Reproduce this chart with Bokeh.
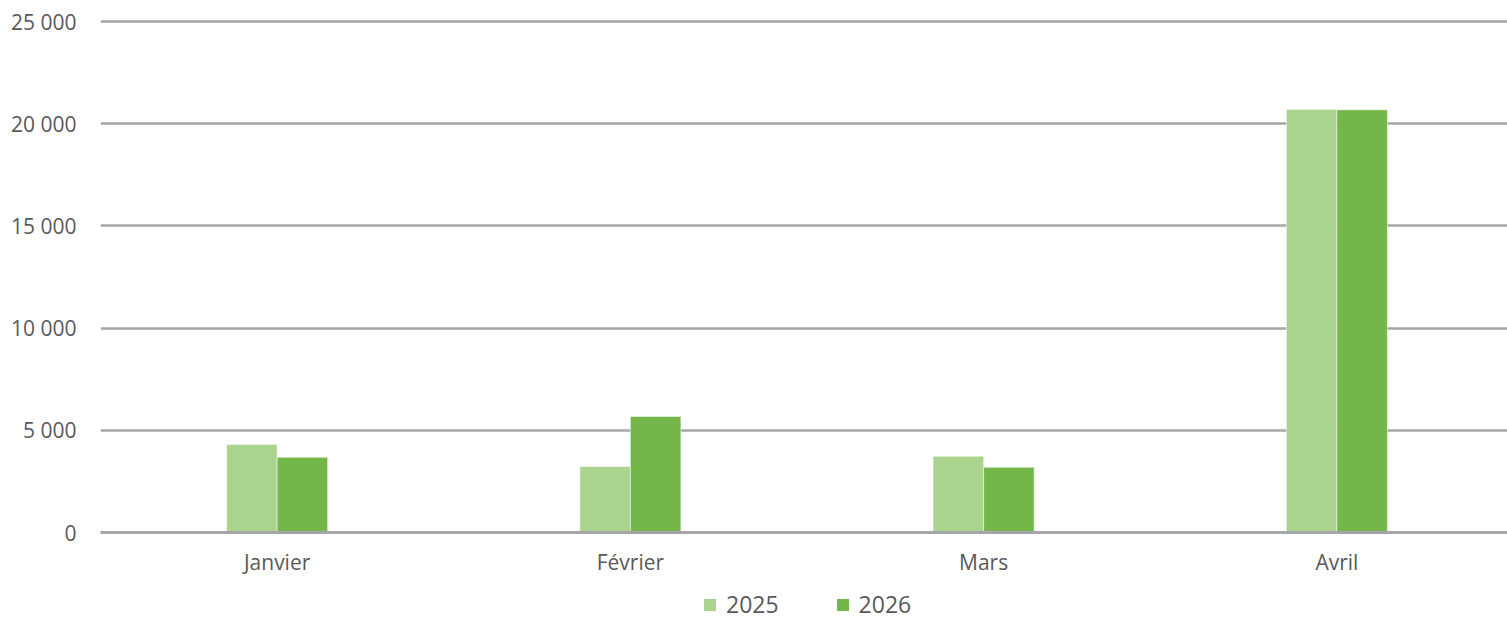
from bokeh.plotting import figure
from bokeh.layouts import column
from bokeh.models import Range1d, FixedTicker, ColumnDataSource, Legend, LegendItem
from bokeh.embed import file_html
from bokeh.resources import INLINE

months = ["Janvier", "Février", "Mars", "Avril"]
series_names = ["2025", "2026"]
values_2025 = [4300, 3230, 3730, 20700]
values_2026 = [3680, 5680, 3190, 20680]
y_ticks = [0, 5000, 10000, 15000, 20000, 25000]

colors = ["#AAD48E", "#74B64A"]
text_color = "#595959"
grid_color = "#A4A6A9"
font = "Open Sans"

centers = [i + 0.5 for i in range(len(months))]
bar_w = 0.143

p = figure(frame_width=1407, frame_height=513, output_backend="svg", toolbar_location=None,
           x_range=Range1d(0, 3.983), y_range=Range1d(0, 25100),
           min_border_left=100, min_border_right=0, min_border_top=19, min_border_bottom=52)
p.outline_line_color = None
p.background_fill_color = "white"
p.border_fill_color = "white"

src25 = ColumnDataSource(dict(x=[c - bar_w / 2 for c in centers], top=values_2025))
src26 = ColumnDataSource(dict(x=[c + bar_w / 2 for c in centers], top=values_2026))
p.vbar(x="x", top="top", width=bar_w, source=src25, fill_color=colors[0],
       line_color="white", line_alpha=0.5, line_width=1)
p.vbar(x="x", top="top", width=bar_w, source=src26, fill_color=colors[1],
       line_color="white", line_alpha=0.5, line_width=1)

# axes
p.xaxis.ticker = FixedTicker(ticks=centers)
p.xaxis.major_label_overrides = {c: m for c, m in zip(centers, months)}
p.xaxis.major_tick_line_color = None
p.xaxis.minor_tick_line_color = None
p.xaxis.axis_line_color = grid_color
p.xaxis.axis_line_width = 3
p.xaxis.major_label_text_font = font
p.xaxis.major_label_text_font_size = "21px"
p.xaxis.major_label_text_color = text_color
p.xaxis.major_label_standoff = 9

p.yaxis.ticker = FixedTicker(ticks=y_ticks)
p.yaxis.major_label_overrides = {t: f"{t:,}".replace(",", " ") for t in y_ticks}
p.yaxis.major_tick_line_color = None
p.yaxis.minor_tick_line_color = None
p.yaxis.axis_line_color = None
p.yaxis.major_label_text_font = font
p.yaxis.major_label_text_font_size = "21px"
p.yaxis.major_label_text_color = text_color
p.yaxis.major_label_standoff = 18

p.xgrid.grid_line_color = None
p.ygrid.grid_line_color = grid_color
p.ygrid.grid_line_width = 2.5

# legend strip below the chart (zero-height proxy bars only feed the legend swatches)
lg = figure(width=1507, height=36, output_backend="svg", toolbar_location=None,
            x_axis_type=None, y_axis_type=None, x_range=Range1d(0, 1), y_range=Range1d(0, 1),
            min_border=0)
lg.outline_line_color = None
lg.grid.visible = False
lr1 = lg.vbar(x=[0.5], top=[0], bottom=[0], width=0.1, fill_color=colors[0], line_color=None)
lr2 = lg.vbar(x=[0.5], top=[0], bottom=[0], width=0.1, fill_color=colors[1], line_color=None)
legend = Legend(items=[LegendItem(label=series_names[0], renderers=[lr1]),
                       LegendItem(label=series_names[1], renderers=[lr2])],
                orientation="horizontal", location=(602, 0))
legend.label_text_font = font
legend.label_text_font_size = "23px"
legend.label_text_color = text_color
legend.glyph_width = 15
legend.glyph_height = 15
legend.label_standoff = 9
legend.spacing = 56
legend.padding = 0
legend.margin = 0
legend.border_line_color = None
legend.background_fill_alpha = 0
lg.add_layout(legend, "center")

layout = column(p, lg, spacing=0)
open("out.html", "w").write(file_html(layout, INLINE))
